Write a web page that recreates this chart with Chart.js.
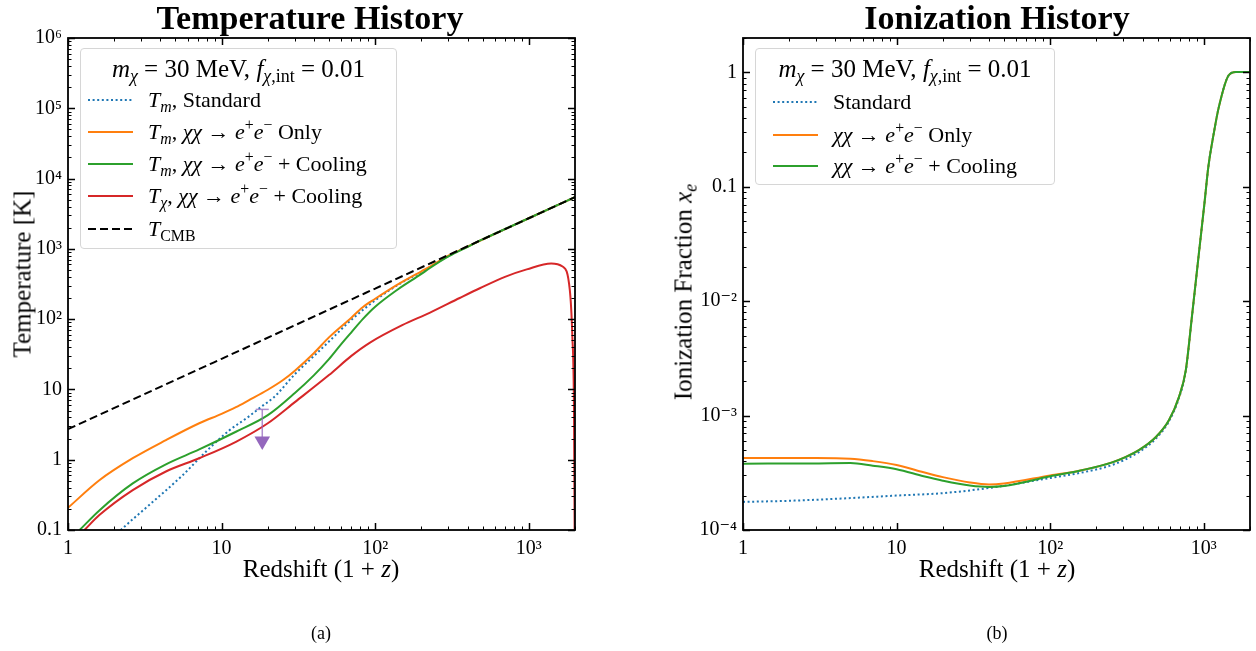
<!DOCTYPE html>
<html>
<head>
<meta charset="utf-8">
<script src="https://cdn.jsdelivr.net/npm/chart.js"></script>
<style>
body { margin: 0; background: #fff; }
#wrap { position: relative; width: 1256px; height: 651px; font-family: "Liberation Serif", "DejaVu Serif", serif; color: #000; overflow: hidden; }
canvas { position: absolute; top: 0; }
.t { position: absolute; white-space: nowrap; transform: translate(-50%, -50%); line-height: 1; }
.title { font-weight: bold; font-size: 34px; }
.axl { font-size: 25px; }
.rot { transform: translate(-50%, -50%) rotate(-90deg); }
.cap { font-size: 18px; }
sub, sup { font-size: 72%; line-height: 0; }
sub { vertical-align: -0.3em; }
sup { vertical-align: 0.55em; }
.legend { position: absolute; border: 1px solid #d6d6d6; border-radius: 4px; background: rgba(255,255,255,0.85); z-index: 2; }
.legend .lt { position: absolute; left: 0; right: 0; text-align: center; font-size: 25px; line-height: 1; }
.legend .row { position: absolute; height: 30px; display: flex; align-items: center; font-size: 22px; white-space: nowrap; }
.legend .row svg { margin-right: 15px; }
</style>
</head>
<body>
<div id="wrap">
  <canvas id="tempChart" width="628" height="651" style="left:0"></canvas>
  <canvas id="ionChart" width="628" height="651" style="left:628px"></canvas>

  <div class="t title" style="left:310px;top:18px">Temperature History</div>
  <div class="t title" style="left:997px;top:18px">Ionization History</div>
  <div class="t axl" style="left:321px;top:568px">Redshift (1 + <i>z</i>)</div>
  <div class="t axl" style="left:997px;top:568px">Redshift (1 + <i>z</i>)</div>
  <div class="t axl rot" style="left:22px;top:274px">Temperature [K]</div>
  <div class="t axl rot" style="left:683px;top:292px">Ionization Fraction <i>x<sub>e</sub></i></div>
  <div class="t cap" style="left:321px;top:633px">(a)</div>
  <div class="t cap" style="left:997px;top:633px">(b)</div>

  <div class="legend" id="tempLegend" style="left:80px;top:48px;width:315px;height:199px"></div>
  <div class="legend" id="ionLegend" style="left:755px;top:48px;width:298px;height:135px"></div>
</div>
<script>
const FONT = '"Liberation Serif", "DejaVu Serif", serif';

// ---------- Temperature history (1+z, K) ----------
const zCmb = [1, 10, 100, 1000, 2000];
const tCmb = [2.725, 27.25, 272.5, 2725, 5450];

const zStd = [2.0, 2.21, 3.38, 5.57, 7.9, 11.2, 15, 18, 22, 30, 40, 50, 70, 100, 138, 200, 300, 500, 1000, 2000];
const tStd = [0.08, 0.1, 0.227, 0.6, 1.3, 2.6, 4.1, 5.6, 7.8, 16.5, 30, 48, 98, 185, 300, 470, 790, 1360, 2725, 5450];

const zOnly = [1, 1.6, 2.64, 4.34, 7.15, 10, 12.4, 15, 20, 25, 30, 40, 50, 70, 83, 100, 138, 200, 226, 300, 400, 500, 1000, 2000];
const tOnly = [0.207, 0.51, 1.05, 1.9, 3.3, 4.5, 5.6, 7.0, 9.9, 13.5, 18.5, 33, 55, 105, 148, 195, 305, 480, 555, 800, 1080, 1360, 2725, 5450];

const zCool = [1.19, 1.6, 2.64, 4.34, 7.15, 12.4, 20, 30, 40, 50, 59, 70, 83, 100, 138, 200, 226, 300, 400, 500, 1000, 2000];
const tCool = [0.1, 0.19, 0.46, 0.86, 1.4, 2.5, 4.3, 8.9, 16, 27, 42, 65, 100, 150, 258, 440, 530, 780, 1070, 1360, 2725, 5450];

const zChi = [1.28, 1.6, 2.64, 4.34, 7.15, 12.4, 20, 30, 50, 70, 92, 150, 226, 355, 480, 700, 970, 1400, 1660, 1850, 1920, 1970, 2000];
const tChi = [0.1, 0.163, 0.37, 0.68, 1.05, 1.8, 3.3, 6.6, 16, 30, 46, 82, 123, 200, 275, 400, 510, 620, 560, 260, 60, 5, 0.01];

// EDGES-like upper limit marker
const limitZ = 18.4;
const limitTop = 5.2;
const limitHead = 1.85;

// ---------- Ionization history (1+z, x_e) ----------
const zIon = [1, 2, 5, 10, 20, 40, 100, 155, 253, 378, 488, 593, 689, 764, 836, 929, 1014, 1070, 1160, 1250, 1450, 1620, 2000];
const xStd = [1.76e-4, 1.8e-4, 1.9e-4, 2.0e-4, 2.1e-4, 2.33e-4, 2.85e-4, 3.15e-4, 3.7e-4, 4.8e-4, 6.3e-4, 8.9e-4, 1.42e-3, 2.45e-3, 7.1e-3, 0.026, 0.075, 0.148, 0.29, 0.49, 0.94, 1.01, 1.01];

const zIonDM = [1, 3, 5, 7, 10, 15, 20, 30, 40, 50, 100, 155, 253, 378, 488, 593, 689, 764, 836, 929, 1014, 1070, 1160, 1250, 1450, 1620, 2000];
const xOnly = [4.25e-4, 4.25e-4, 4.2e-4, 4.0e-4, 3.7e-4, 3.2e-4, 2.9e-4, 2.6e-4, 2.5e-4, 2.55e-4, 3.0e-4, 3.3e-4, 3.9e-4, 5.0e-4, 6.5e-4, 9.1e-4, 1.45e-3, 2.5e-3, 7.2e-3, 0.026, 0.075, 0.148, 0.29, 0.49, 0.94, 1.01, 1.01];
const xCool = [3.8e-4, 3.82e-4, 3.85e-4, 3.65e-4, 3.4e-4, 2.95e-4, 2.7e-4, 2.45e-4, 2.38e-4, 2.42e-4, 2.95e-4, 3.3e-4, 3.9e-4, 5.0e-4, 6.5e-4, 9.1e-4, 1.45e-3, 2.5e-3, 7.2e-3, 0.026, 0.075, 0.148, 0.29, 0.49, 0.94, 1.01, 1.01];

const BLUE = '#1f77b4', ORANGE = '#ff7f0e', GREEN = '#2ca02c', RED = '#d62728', PURPLE = '#9467bd';

const pts = (xs, ys) => xs.map((x, i) => ({ x: x, y: ys[i] }));

const SUP = { '0': '⁰', '1': '¹', '2': '²', '3': '³', '4': '⁴', '5': '⁵', '6': '⁶', '7': '⁷', '8': '⁸', '9': '⁹', '-': '⁻' };
function fmtLog(v) {
  const e = Math.round(Math.log10(v));
  if (e === -1) return '0.1';
  if (e === 0) return '1';
  if (e === 1) return '10';
  return '10' + String(e).split('').map(c => SUP[c]).join('');
}

function logAxis(min, max, size, horiz) {
  return {
    type: 'logarithmic',
    min: min,
    max: max,
    grid: { display: false, drawTicks: false },
    border: { display: false },
    ticks: {
      color: '#000',
      font: { family: FONT, size: 20 },
      padding: horiz ? 7 : 6,
      autoSkip: false,
      maxRotation: 0,
      callback: (v) => fmtLog(v)
    },
    afterBuildTicks: (s) => {
      const t = [];
      for (let e = Math.ceil(Math.log10(min) - 1e-9); e <= Math.floor(Math.log10(max) + 1e-9); e++) t.push({ value: Math.pow(10, e) });
      s.ticks = t;
    },
    afterFit: (s) => { if (horiz) s.height = size; else s.width = size; }
  };
}

// inward major/minor ticks on all four sides + frame
const frameTicks = {
  id: 'frameTicks',
  afterDatasetsDraw(chart) {
    const { ctx, chartArea: a, scales } = chart;
    ctx.save();
    ctx.strokeStyle = '#000';
    const draw = (scale, horiz) => {
      const lo = Math.floor(Math.log10(scale.min)), hi = Math.ceil(Math.log10(scale.max));
      for (let e = lo; e <= hi; e++) {
        for (let k = 1; k < 10; k++) {
          const v = k * Math.pow(10, e);
          if (v < scale.min * 0.999 || v > scale.max * 1.001) continue;
          const p = Math.round(scale.getPixelForValue(v)) + 0.5;
          const len = k === 1 ? 7 : 3.5;
          ctx.lineWidth = k === 1 ? 1.5 : 1;
          ctx.beginPath();
          if (horiz) {
            ctx.moveTo(p, a.bottom); ctx.lineTo(p, a.bottom - len);
            ctx.moveTo(p, a.top); ctx.lineTo(p, a.top + len);
          } else {
            ctx.moveTo(a.left, p); ctx.lineTo(a.left + len, p);
            ctx.moveTo(a.right, p); ctx.lineTo(a.right - len, p);
          }
          ctx.stroke();
        }
      }
    };
    draw(scales.x, true);
    draw(scales.y, false);
    ctx.lineWidth = 1.8;
    ctx.strokeRect(a.left, a.top, a.right - a.left, a.bottom - a.top);
    ctx.restore();
  }
};

function line(label, data, color, order, dash) {
  return {
    label: label,
    data: data,
    borderColor: color,
    backgroundColor: color,
    borderWidth: 2,
    borderDash: dash || [],
    pointRadius: 0,
    fill: false,
    cubicInterpolationMode: 'monotone',
    order: order
  };
}

const common = {
  responsive: false,
  animation: false,
  devicePixelRatio: 1,
  plugins: { legend: { display: false }, tooltip: { enabled: false }, title: { display: false } }
};

const tempChart = new Chart(document.getElementById('tempChart'), {
  type: 'line',
  data: {
    datasets: [
      line('T_m, Standard', pts(zStd, tStd), BLUE, 6, [2, 2.6]),
      line('T_m, χχ → e+e− Only', pts(zOnly, tOnly), ORANGE, 5),
      line('T_m, χχ → e+e− + Cooling', pts(zCool, tCool), GREEN, 4),
      line('T_χ, χχ → e+e− + Cooling', pts(zChi, tChi), RED, 3),
      line('T_CMB', pts(zCmb, tCmb), '#000', 2, [8, 4]),
      { label: 'limit', data: [{ x: limitZ, y: limitTop }, { x: limitZ, y: limitHead * 1.12 }], borderColor: 'rgba(148,103,189,0.75)', borderWidth: 1.5, pointRadius: 0, order: 1 },
      { label: 'cap', type: 'scatter', data: [{ x: limitZ, y: limitTop }], pointStyle: 'line', pointRadius: 6.5, borderColor: 'rgba(148,103,189,0.75)', pointBorderWidth: 1.5, order: 1 },
      { label: 'head', type: 'scatter', data: [{ x: limitZ, y: limitHead }], pointStyle: 'triangle', rotation: 180, pointRadius: 9, backgroundColor: PURPLE, borderColor: PURPLE, pointBorderWidth: 0, order: 0 }
    ]
  },
  options: Object.assign({}, common, {
    layout: { padding: { left: 0, right: 53, top: 38, bottom: 0 } },
    scales: {
      x: logAxis(1, 2000, 121, true),
      y: logAxis(0.1, 1e6, 68, false)
    }
  }),
  plugins: [frameTicks]
});

const ionChart = new Chart(document.getElementById('ionChart'), {
  type: 'line',
  data: {
    datasets: [
      line('Standard', pts(zIon, xStd), BLUE, 3, [2, 2.6]),
      line('χχ → e+e− Only', pts(zIonDM, xOnly), ORANGE, 2),
      line('χχ → e+e− + Cooling', pts(zIonDM, xCool), GREEN, 1)
    ]
  },
  options: Object.assign({}, common, {
    layout: { padding: { left: 0, right: 6, top: 38, bottom: 0 } },
    scales: {
      x: logAxis(1, 2000, 121, true),
      y: logAxis(1e-4, 2, 115, false)
    }
  }),
  plugins: [frameTicks]
});

// HTML legends (math text) built from the chart datasets' styles
function buildLegend(id, chart, titleHtml, labelsHtml, rowCenters, sampleLeft) {
  const box = document.getElementById(id);
  const t = document.createElement('div');
  t.className = 'lt';
  t.style.top = '7px';
  t.innerHTML = titleHtml;
  box.appendChild(t);
  labelsHtml.forEach((html, i) => {
    const ds = chart.data.datasets[i];
    const row = document.createElement('div');
    row.className = 'row';
    row.style.left = sampleLeft + 'px';
    row.style.top = (rowCenters[i] - 15) + 'px';
    const dash = (ds.borderDash || []).join(',');
    row.innerHTML = '<svg width="45" height="10"><line x1="0" y1="5" x2="45" y2="5" stroke="' + ds.borderColor +
      '" stroke-width="2"' + (dash ? ' stroke-dasharray="' + dash + '"' : '') + '/></svg><span>' + html + '</span>';
    box.appendChild(row);
  });
}

const legendTitle = '<i>m</i><sub><i>χ</i></sub> = 30 MeV, <i>f</i><sub><i>χ</i>,int</sub> = 0.01';
const arrowTxt = '<i>χχ</i> → <i>e</i><sup>+</sup><i>e</i><sup>−</sup>';

buildLegend('tempLegend', tempChart, legendTitle, [
  '<i>T<sub>m</sub></i>, Standard',
  '<i>T<sub>m</sub></i>, ' + arrowTxt + ' Only',
  '<i>T<sub>m</sub></i>, ' + arrowTxt + ' + Cooling',
  '<i>T<sub>χ</sub></i>, ' + arrowTxt + ' + Cooling',
  '<i>T</i><sub>CMB</sub>'
], [51, 83, 115, 147, 180], 7);

buildLegend('ionLegend', ionChart, legendTitle, [
  'Standard',
  arrowTxt + ' Only',
  arrowTxt + ' + Cooling'
], [53, 86, 117], 17);
</script>
</body>
</html>
